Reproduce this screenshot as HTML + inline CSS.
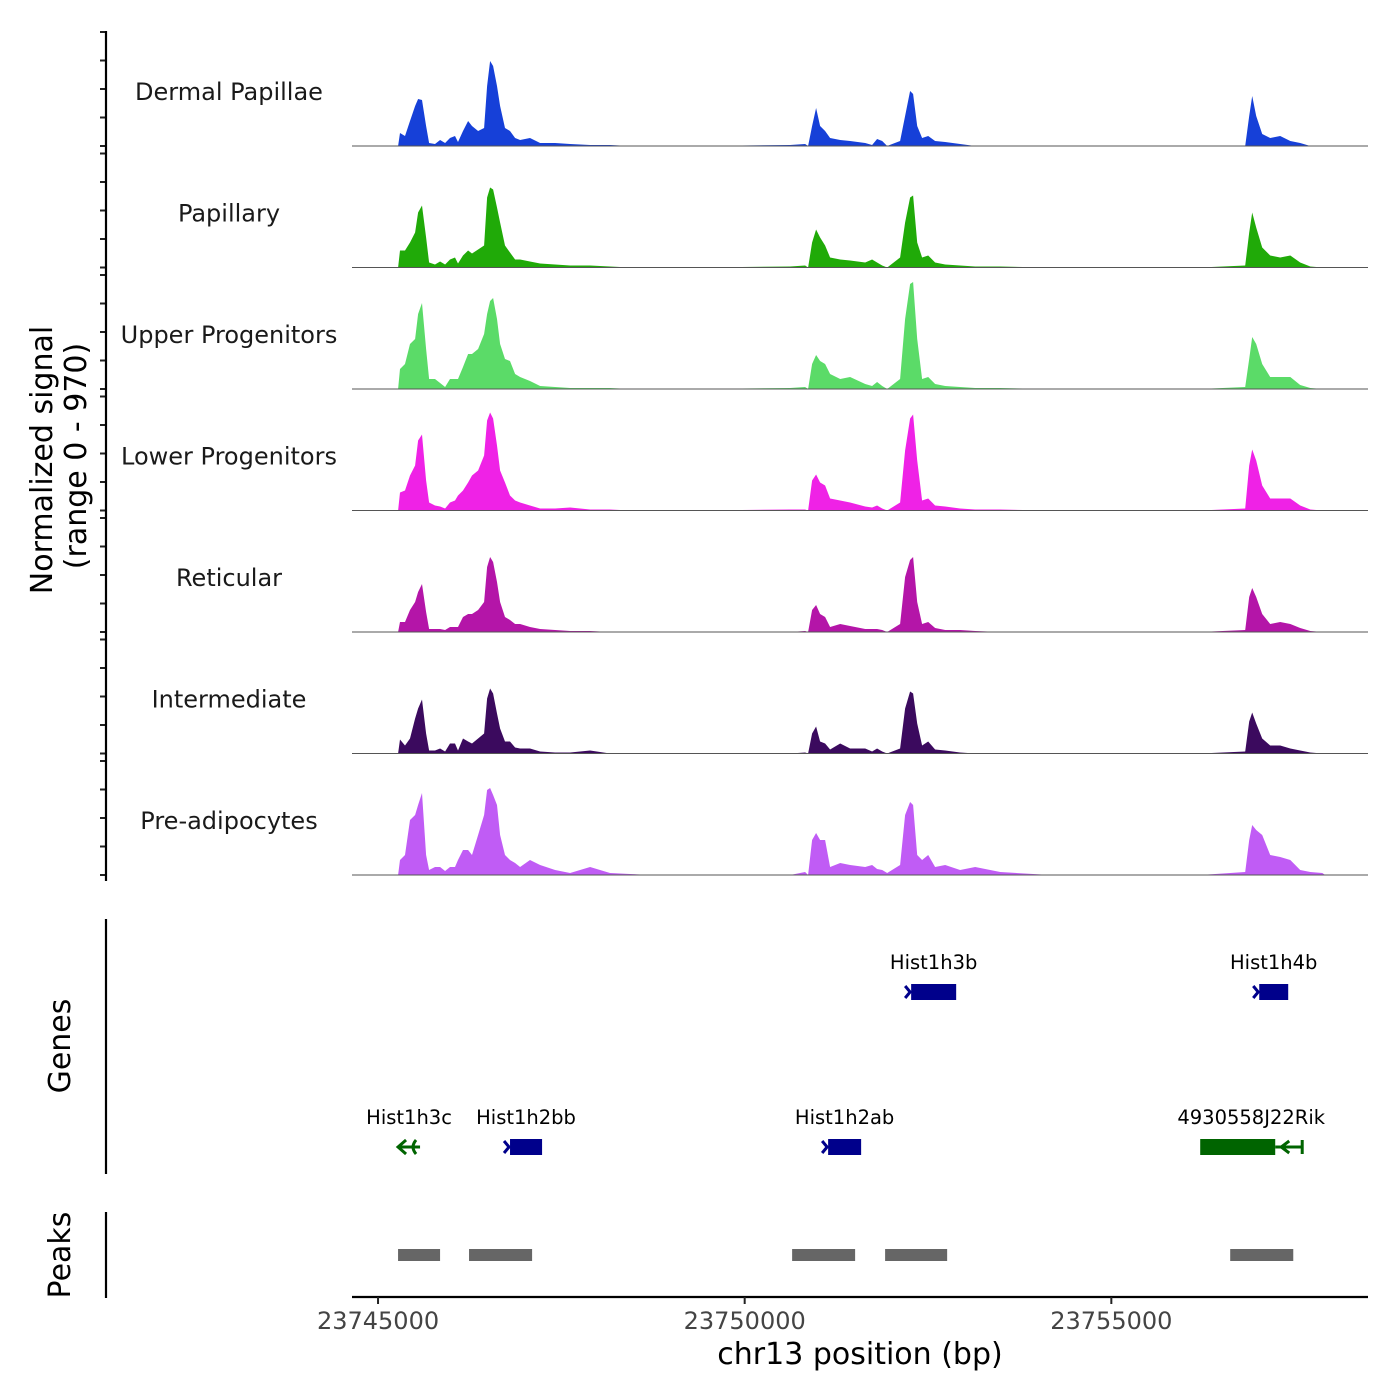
<!DOCTYPE html>
<html><head><meta charset="utf-8">
<style>
html,body{margin:0;padding:0;background:#fff;}
svg{display:block;font-family:"Liberation Sans","DejaVu Sans",sans-serif;}
</style></head>
<body>
<svg id="chart" width="1400" height="1400" viewBox="0 0 1400 1400" xmlns="http://www.w3.org/2000/svg">
<rect width="1400" height="1400" fill="#fff"/>
<g id="tracks"></g>
<g id="genes"></g>
<g id="peaks"></g>
<g id="axes"></g>
<text transform="translate(52,460) rotate(-90)" text-anchor="middle" font-size="30" fill="#000" font-family="DejaVu Sans, sans-serif">Normalized signal</text>
<text transform="translate(86,456) rotate(-90)" text-anchor="middle" font-size="30" fill="#000" font-family="DejaVu Sans, sans-serif">(range 0 - 970)</text>
<text transform="translate(70,1046) rotate(-90)" text-anchor="middle" font-size="30" fill="#000" font-family="DejaVu Sans, sans-serif">Genes</text>
<text transform="translate(70,1255) rotate(-90)" text-anchor="middle" font-size="30" fill="#000" font-family="DejaVu Sans, sans-serif">Peaks</text>
<text x="860" y="1364" text-anchor="middle" font-size="30" fill="#000" font-family="DejaVu Sans, sans-serif">chr13 position (bp)</text>
</svg>
<script>
const trackNames = ["Dermal Papillae","Papillary","Upper Progenitors","Lower Progenitors","Reticular","Intermediate","Pre-adipocytes"];
const trackColors = ["#1640d8","#20aa08","#5bdb68","#ef22e6","#b415a8","#3b0a5e","#c05cf5"];
const positions = [23745273,23745300,23745368,23745436,23745505,23745546,23745600,23745655,23745696,23745777,23745846,23745914,23745982,23746050,23746091,23746159,23746228,23746282,23746364,23746446,23746487,23746528,23746569,23746623,23746664,23746732,23746800,23746869,23746937,23747073,23747210,23747414,23747619,23747892,23748164,23748437,23748710,23749392,23750620,23750824,23750865,23750920,23750974,23751029,23751097,23751165,23751302,23751438,23751643,23751738,23751806,23751875,23751943,23752120,23752188,23752256,23752297,23752352,23752420,23752502,23752597,23752734,23752938,23753143,23753484,23754166,23756212,23756826,23756880,23756921,23756976,23757058,23757167,23757303,23757440,23757576,23757713,23757877,23757917];
const sigDP  = [0,13,10,25,40,47,46,20,3,2,6,3,8,10,4,15,25,20,15,18,60,85,80,60,40,18,15,8,6,8,3,3,2,1,1,0,0,0,1,2,0,20,38,20,15,8,6,5,3,1,7,5,0,5,30,55,52,20,8,10,5,4,2,0,0,0,0,0,30,50,30,12,8,10,5,3,0,0,0];
const sigPap = [0,17,17,25,35,55,62,30,5,3,6,3,8,10,4,12,17,14,18,22,70,80,78,60,45,22,15,8,8,6,4,3,2,2,1,0,0,0,1,2,0,25,38,30,22,10,8,7,5,8,5,2,0,10,45,70,72,25,10,12,5,3,2,1,1,0,0,2,35,55,40,20,12,10,12,5,1,0,0];
const sigUp  = [0,20,25,45,50,75,86,40,10,10,6,2,10,10,10,22,35,35,40,55,75,88,91,70,45,30,28,15,12,8,3,2,1,1,1,0,0,0,1,2,0,25,34,28,25,15,10,12,5,3,7,3,0,10,70,105,107,50,10,12,5,3,2,1,1,0,0,2,30,52,45,25,12,12,12,4,1,0,0];
const sigLow = [0,18,20,35,45,70,76,30,8,5,4,2,8,10,15,20,28,35,40,55,90,98,92,65,40,28,15,10,8,5,2,2,3,1,1,0,0,0,1,1,0,30,36,28,25,12,10,8,4,3,5,2,0,8,60,92,96,50,10,12,5,4,2,1,1,0,0,2,45,61,50,25,12,12,12,5,1,0,0];
const sigRet = [0,10,10,22,30,40,48,20,3,3,3,2,5,5,5,15,18,18,22,30,65,75,70,50,30,15,12,8,8,5,3,2,1,1,0,0,0,0,0,1,0,22,27,18,15,5,8,6,3,3,3,2,0,8,55,72,75,30,8,10,4,2,2,1,0,0,0,2,35,44,35,18,8,10,8,4,1,0,0];
const sigInt = [0,14,8,15,35,45,54,20,3,3,5,2,10,10,3,15,12,10,15,20,55,65,60,40,25,12,12,6,5,5,2,1,1,3,0,0,0,0,0,1,0,20,27,12,10,4,10,5,5,2,5,2,0,5,45,62,60,30,8,12,4,3,1,0,0,0,0,2,32,41,30,15,8,8,5,3,1,0,0];
const sigPre = [0,15,20,55,60,70,82,20,5,8,8,4,8,8,15,25,25,20,40,60,85,87,80,70,40,20,15,12,8,15,10,5,2,8,2,1,0,0,0,3,0,35,42,35,35,8,12,10,8,10,6,5,2,10,60,73,70,20,15,20,8,10,5,8,3,0,0,3,35,50,45,40,20,18,15,5,3,2,0];
const signals = [sigDP,sigPap,sigUp,sigLow,sigRet,sigInt,sigPre];
const yTicks = [0,28.5,57,85.5];
const xTickValues = [23745000,23750000,23755000];
const xTickLabels = ["23745000","23750000","23755000"];
const geneNames = ["Hist1h3b","Hist1h4b","Hist1h3c","Hist1h2bb","Hist1h2ab","4930558J22Rik"];
const geneStarts = [23752270,23757017,23745273,23746800,23751138,23756212];
const geneEnds   = [23752884,23757412,23745573,23747237,23751588,23757235];
const geneLineEnds = [23752884,23757412,23745573,23747237,23751588,23757603];
const geneRows = [0,0,1,1,1,1];
const geneStrand = ["+","+","-","+","+","-"];
const geneCoding = [1,1,0,1,1,1];
const peakStarts = [23745273,23746241,23750647,23751915,23756621];
const peakEnds   = [23745846,23747101,23751506,23752761,23757481];

const NS="http://www.w3.org/2000/svg";
const X0=352, X1=1368, BP0=23744645, PXBP=0.07333;
const xs = bp => X0 + (bp-BP0)*PXBP;
const baselines=[146,267.5,389,510.5,632,753.5,875];
const PANEL_H=114, Y_MAX=114;
const ys = (v,i) => baselines[i] - v/Y_MAX*PANEL_H;
function mk(tag,attrs,parent){const e=document.createElementNS(NS,tag);for(const k in attrs)e.setAttribute(k,attrs[k]);parent.appendChild(e);return e;}

const gT=document.getElementById('tracks');
const gA=document.getElementById('axes');
signals.forEach((sig,i)=>{
  const g=mk('g',{},gT);
  
  
  let d='M'+xs(positions[0]).toFixed(1)+','+baselines[i];
  positions.forEach((p,j)=>{d+=' L'+xs(p).toFixed(1)+','+ys(sig[j],i).toFixed(1);});
  d+=' L'+xs(positions[positions.length-1]).toFixed(1)+','+baselines[i]+' Z';
  const a=mk('path',{d:d,fill:trackColors[i],stroke:'none'},g);
  
  
  const bl=mk('line',{x1:X0,x2:X1,y1:baselines[i],y2:baselines[i],stroke:'#555','stroke-width':1},g);
  
  
  const t=mk('text',{x:229,y:baselines[i]-46,'text-anchor':'middle','font-size':24,fill:'#1a1a1a','font-family':'DejaVu Sans, sans-serif'},g);
  
  
  t.textContent=trackNames[i];
  yTicks.concat([Y_MAX]).forEach(v=>{
    const tk=mk('line',{x1:100,x2:106,y1:ys(v,i),y2:ys(v,i),stroke:'#222','stroke-width':2},gA);
    
    
  });
});
const ya=mk('line',{x1:106,x2:106,y1:31,y2:881,stroke:'#000','stroke-width':2.2},gA);


const ga=mk('line',{x1:106,x2:106,y1:919,y2:1174,stroke:'#000','stroke-width':2.2},gA);


const pa=mk('line',{x1:106,x2:106,y1:1212,y2:1298,stroke:'#000','stroke-width':2.2},gA);


const xa=mk('line',{x1:X0,x2:X1,y1:1297,y2:1297,stroke:'#000','stroke-width':2.2},gA);


xTickValues.forEach((v,i)=>{
  const tk=mk('line',{x1:xs(v),x2:xs(v),y1:1297,y2:1304,stroke:'#222','stroke-width':2},gA);
  
  
  const tl=mk('text',{x:xs(v),y:1329,'text-anchor':'middle','font-size':24,fill:'#444','font-family':'DejaVu Sans, sans-serif'},gA);
  
  
  tl.textContent=xTickLabels[i];
});

const gG=document.getElementById('genes');
const rowY=[992,1147];
geneNames.forEach((n,i)=>{
  const g=mk('g',{},gG);
  
  
  const y=rowY[geneRows[i]];
  const col=geneStrand[i]==='-'?'#006400':'#00008b';
  const x1=xs(geneStarts[i]), x2=xs(geneEnds[i]), x3=xs(geneLineEnds[i]);
  const lab=mk('text',{x:(x1+x3)/2,y:y-23,'text-anchor':'middle','font-size':19.5,fill:'#000','font-family':'DejaVu Sans, sans-serif'},g);
  
  
  lab.textContent=n;
  if(geneCoding[i]){
    const r=mk('rect',{x:x1,y:y-8,width:x2-x1,height:16,fill:col},g);
    
    
    if(geneStrand[i]==='+'){
      const c=mk('path',{d:`M${x1-6},${y-6} L${x1-1},${y} L${x1-6},${y+6}`,stroke:col,'stroke-width':3,fill:'none'},g);
      
      
    } else {
      const l=mk('path',{d:`M${x2},${y} L${x3},${y} M${x2+14},${y-6} L${x2+6},${y} L${x2+14},${y+6} M${x3},${y-7} L${x3},${y+7}`,stroke:col,'stroke-width':3,fill:'none'},g);
      
      
    }
  } else {
    const l=mk('path',{d:`M${x1},${y} L${x2},${y} M${x1+8},${y-7} L${x1},${y} L${x1+8},${y+7} M${x2-4},${y-7} Q${x2-10},${y} ${x2-4},${y+7}`,stroke:col,'stroke-width':3,fill:'none'},g);
    
    
  }
});

const gP=document.getElementById('peaks');
peakStarts.forEach((s,i)=>{
  const r=mk('rect',{x:xs(s),y:1249,width:xs(peakEnds[i])-xs(s),height:12,fill:'#666'},gP);
  
  
});
</script>
</body></html>
